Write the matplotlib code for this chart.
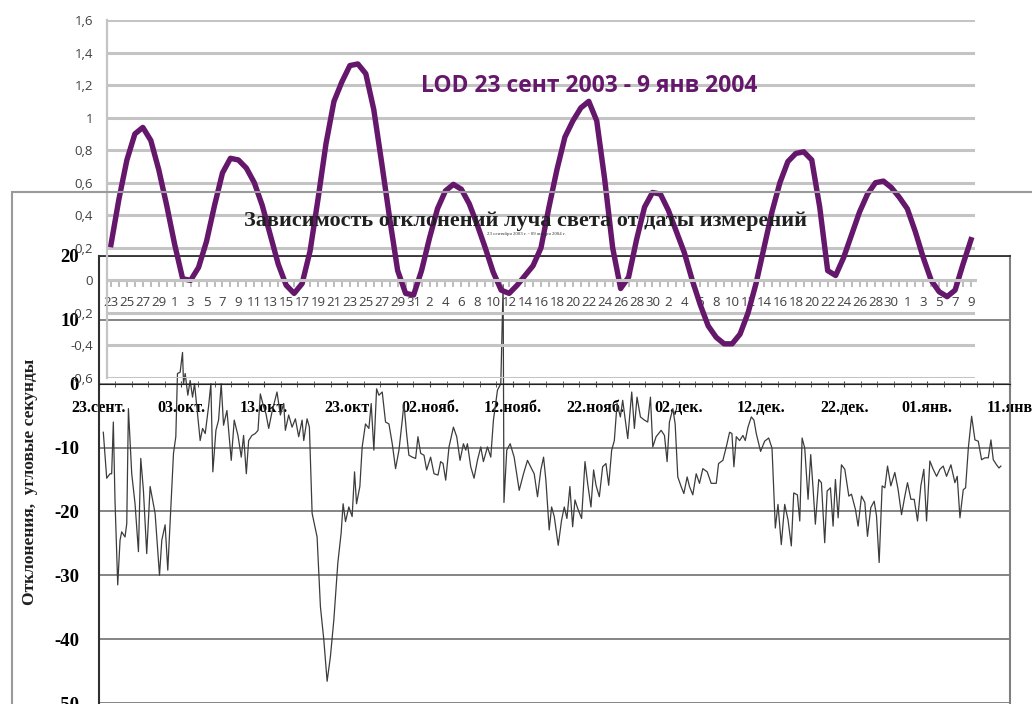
import matplotlib
matplotlib.use('Agg')
import numpy as np
import matplotlib.pyplot as plt
import matplotlib.ticker as tick
from matplotlib.patches import Rectangle

plt.rcParams['axes.unicode_minus'] = False

purple = '#65186b'
lod_grid = '#c4c4c4'
dark_grid = '#707070'
sans = ['Open Sans', 'DejaVu Sans']
serif = ['Liberation Serif', 'DejaVu Serif']

# LOD, one value per day, 23 Sep 2003 .. 9 Jan 2004
lod_values = [
    0.22, 0.50, 0.74, 0.90, 0.94, 0.86, 0.68, 0.46, 0.22, 0.01,
    0.00, 0.08, 0.24, 0.46, 0.66, 0.75, 0.74, 0.69, 0.60, 0.46,
    0.28, 0.10, -0.03, -0.08, -0.02, 0.18, 0.50, 0.84, 1.10, 1.22,
    1.32, 1.33, 1.27, 1.05, 0.72, 0.38, 0.06, -0.08, -0.09, 0.06,
    0.26, 0.44, 0.55, 0.59, 0.56, 0.47, 0.34, 0.20, 0.05, -0.06,
    -0.08, -0.03, 0.03, 0.09, 0.20, 0.45, 0.68, 0.88, 0.98, 1.06,
    1.10, 0.98, 0.62, 0.20, -0.05, 0.02, 0.25, 0.45, 0.54, 0.53,
    0.43, 0.30, 0.17, 0.00, -0.15, -0.28, -0.35, -0.39, -0.39, -0.33,
    -0.20, -0.02, 0.20, 0.42, 0.60, 0.73, 0.78, 0.79, 0.74, 0.45,
    0.06, 0.03, 0.14, 0.28, 0.42, 0.53, 0.60, 0.61, 0.57, 0.51,
    0.44, 0.30, 0.14, 0.00, -0.07, -0.10, -0.06, 0.10, 0.25,
]
lod_labels = ['23', '25', '27', '29',
              '1', '3', '5', '7', '9', '11', '13', '15', '17', '19', '21', '23', '25', '27', '29', '31',
              '2', '4', '6', '8', '10', '12', '14', '16', '18', '20', '22', '24', '26', '28', '30',
              '2', '4', '6', '8', '10', '12', '14', '16', '18', '20', '22', '24', '26', '28', '30',
              '1', '3', '5', '7', '9']
lod_title = 'LOD 23 сент 2003 - 9 янв 2004'

# light beam deviation, days since 23 Sep 2003 -> arc seconds
dev_days = [
    0.58, 0.99, 1.39, 1.59, 1.79, 1.99, 2.32, 2.60, 2.80, 3.20, 3.41, 3.61, 4.01, 4.41, 4.82,
    5.10, 5.42, 5.82, 6.23, 6.83, 7.36, 7.64, 8.04, 8.36, 9.05, 9.33, 9.53, 9.85, 10.14, 10.26,
    10.46, 10.78, 11.06, 11.35, 11.59, 11.87, 12.27, 12.56, 12.88, 13.28, 13.56, 13.80, 14.17, 14.49, 14.81,
    15.09, 15.50, 16.02, 16.38, 16.83, 17.23, 17.51, 17.84, 18.12, 18.52, 18.92, 19.25, 19.53, 19.93, 20.21,
    20.54, 20.94, 21.54, 21.95, 22.35, 22.55, 22.95, 23.36, 23.76, 24.16, 24.57, 24.77, 25.17, 25.45, 25.78,
    26.38, 26.78, 27.19, 27.59, 27.99, 28.40, 28.88, 29.28, 29.52, 29.81, 30.21, 30.61, 30.90, 31.14, 31.54,
    31.82, 32.22, 32.63, 32.91, 33.23, 33.56, 33.84, 34.24, 34.64, 35.05, 35.45, 35.85, 36.26, 36.66, 36.86,
    37.18, 37.46, 37.87, 38.27, 38.55, 38.88, 39.28, 39.60, 40.08, 40.49, 40.97, 41.29, 41.58, 41.90, 42.30,
    42.83, 43.23, 43.63, 44.04, 44.32, 44.52, 44.92, 45.32, 45.73, 46.13, 46.45, 46.94, 47.34, 47.66, 48.15,
    48.55, 48.83, 48.93, 49.27, 49.68, 50.16, 50.77, 51.29, 51.77, 52.26, 52.58, 52.98, 53.38, 53.71, 53.99,
    54.39, 54.68, 55.00, 55.48, 55.88, 56.21, 56.53, 56.89, 57.22, 57.50, 57.82, 58.30, 58.71, 59.03, 59.43,
    59.75, 60.04, 60.44, 60.84, 61.24, 61.57, 61.93, 62.25, 62.58, 62.98, 63.26, 63.87, 64.35, 64.67, 64.99,
    65.40, 65.88, 66.28, 66.61, 66.89, 67.29, 67.90, 68.30, 68.62, 68.90, 69.31, 69.59, 69.91, 70.31, 70.64,
    71.04, 71.32, 71.72, 72.13, 72.53, 72.93, 73.46, 73.94, 74.55, 74.83, 75.35, 75.76, 76.16, 76.44, 76.68,
    76.97, 77.37, 77.77, 78.05, 78.38, 78.78, 79.10, 79.38, 79.90, 80.39, 80.88, 81.28, 81.68, 82.00, 82.40,
    82.81, 83.21, 83.61, 83.90, 84.34, 84.63, 84.91, 85.23, 85.63, 85.95, 86.23, 86.51, 86.92, 87.24, 87.64,
    87.93, 88.33, 88.65, 88.93, 89.26, 89.66, 90.06, 90.55, 90.87, 91.35, 91.67, 92.08, 92.48, 92.80, 93.20,
    93.61, 93.89, 94.21, 94.57, 94.90, 95.22, 95.62, 96.10, 96.50, 96.91, 97.31, 97.63, 98.04, 98.44, 98.84,
    99.24, 99.60, 99.93, 100.33, 100.73, 101.14, 101.54, 101.94, 102.34, 102.87, 103.35, 103.63, 103.96, 104.36, 104.64,
    104.97, 105.37, 105.77, 106.17, 106.57, 106.98, 107.38, 107.70, 107.98, 108.38, 108.67, 108.90,
]
dev_values = [
    -7.6, -14.8, -14.1, -14.1, -6.0, -18.2, -31.5, -24.5, -23.2, -24.0, -21.9, -3.9, -14.1, -18.8, -26.3,
    -11.7, -16.7, -26.6, -16.1, -20.3, -30.0, -24.5, -22.1, -29.2, -10.9, -8.3, 1.6, 1.8, 4.9, 0.0,
    1.6, -1.8, 0.5, -2.1, 0.0, -3.6, -8.9, -7.0, -7.8, -3.6, 0.0, -13.8, -7.3, -5.7, 0.0,
    -6.5, -4.2, -12.0, -5.7, -8.1, -11.5, -8.1, -14.1, -8.9, -8.1, -7.8, -7.3, -1.6, -3.6, -4.7,
    -7.0, -4.4, -1.3, -4.9, -3.1, -7.3, -4.9, -6.8, -5.5, -8.3, -5.7, -8.9, -5.5, -6.8, -20.3,
    -24.0, -34.9, -40.1, -46.6, -42.7, -37.0, -28.1, -23.4, -18.8, -21.6, -19.3, -20.8, -13.8, -18.8, -16.1,
    -9.9, -6.3, -7.0, -3.1, -10.4, -0.8, -1.8, -1.3, -6.0, -6.3, -9.4, -13.3, -10.4, -5.7, -3.1,
    -7.8, -11.2, -11.5, -11.7, -8.3, -10.9, -11.2, -13.5, -11.5, -14.1, -14.3, -12.2, -12.5, -15.1, -9.9,
    -6.8, -8.3, -12.0, -9.4, -10.4, -9.4, -13.0, -14.8, -12.0, -9.9, -12.2, -9.9, -11.5, -5.7, -1.0,
    0.0, 15.5, -18.6, -10.4, -9.4, -11.5, -16.7, -14.1, -12.0, -13.3, -14.1, -17.7, -13.5, -11.5, -15.1,
    -22.9, -19.3, -20.8, -25.3, -21.4, -19.3, -21.1, -16.1, -22.4, -18.2, -19.5, -21.1, -12.2, -15.6, -19.3,
    -13.5, -15.9, -17.7, -13.0, -12.5, -15.9, -10.4, -8.9, -3.1, -5.2, -2.6, -8.6, -1.3, -7.0, -2.1,
    -5.2, -5.7, -6.0, -2.1, -9.9, -8.3, -7.3, -8.1, -12.2, -6.0, -3.9, -6.3, -14.6, -16.1, -17.2,
    -14.6, -16.1, -17.4, -14.1, -15.6, -13.3, -13.8, -15.6, -15.6, -12.5, -12.0, -9.9, -7.6, -7.8, -13.0,
    -8.3, -8.9, -8.1, -8.9, -6.8, -5.2, -5.7, -7.8, -10.6, -9.0, -8.5, -10.1, -22.6, -18.9, -25.2,
    -18.9, -21.3, -25.4, -17.1, -17.4, -21.5, -8.5, -10.1, -18.1, -11.1, -16.3, -22.0, -15.0, -15.5, -24.9,
    -16.8, -16.3, -22.3, -15.0, -21.0, -12.7, -13.4, -17.6, -17.3, -19.7, -22.3, -17.6, -18.6, -23.9, -19.4,
    -18.4, -20.7, -28.0, -16.0, -16.3, -12.9, -16.0, -13.9, -16.6, -20.5, -17.6, -15.5, -18.1, -18.1, -21.5,
    -16.0, -13.4, -21.5, -12.1, -13.4, -14.5, -13.4, -12.9, -14.5, -12.7, -15.5, -14.5, -21.0, -16.6, -16.3,
    -10.1, -5.1, -8.8, -9.0, -11.9, -11.6, -11.6, -8.8, -11.9, -12.7, -13.2, -12.9,
]
dev_ticks = ['23.сент.', '03.окт.', '13.окт.', '23.окт', '02.нояб.', '12.нояб.',
             '22.нояб.', '02.дек.', '12.дек.', '22.дек.', '01.янв.', '11.янв']
dev_title = 'Зависимость отклонений луча света от даты измерений'
dev_subtitle = '23 сентября 2003 г. - 09 января 2004 г.'
dev_ylabel = 'Отклонения,  угловые секунды'

W, H = 1032, 704
fig = plt.figure(figsize=(W / 100, H / 100), dpi=100)

# the pasted deviation chart (lies underneath)
fig.patches.append(Rectangle((12 / W, -0.01), 1.2, 1 - 192 / H + 0.01, transform=fig.transFigure,
                             fill=False, edgecolor='#9a9a9a', lw=1.5))

ax = fig.add_axes([98.5 / W, 1 / H, (1010 - 98.5) / W, (703 - 256) / H])
ax.plot(dev_days, dev_values, color='#3c3c3c', lw=0.9)
ax.set_xlim(0, 110)
ax.set_ylim(-50, 20)
ax.set_yticks(range(-50, 21, 10))
ax.grid(axis='y', color=dark_grid, lw=1.2)
ax.set_axisbelow(True)
ax.spines['bottom'].set_position(('data', 0))
ax.spines['bottom'].set_color('#202020')
ax.spines['left'].set_color('#303030')
ax.spines['left'].set_linewidth(1.5)
ax.spines['top'].set_color('#303030')
ax.spines['top'].set_linewidth(1.3)
ax.spines['right'].set_color('#808080')
ax.spines['right'].set_linewidth(1.5)
ax.set_xticks(range(0, 111, 10))
ax.set_xticklabels(dev_ticks)
ax.xaxis.set_minor_locator(tick.MultipleLocator(2))
ax.tick_params(axis='x', which='both', direction='inout', length=4, pad=10, color='#404040')
ax.tick_params(axis='y', length=0, pad=14)
for lab in ax.get_xticklabels():
    lab.set_family(serif)
    lab.set_fontweight('bold')
    lab.set_fontsize(11.5)
for lab in ax.get_yticklabels():
    lab.set_family(serif)
    lab.set_fontweight('bold')
    lab.set_fontsize(13.5)

fig.text(30 / W, 1 - 482 / H, dev_ylabel, rotation=90, ha='center', va='center',
         family=serif, fontweight='bold', fontsize=12.5, color='#202020')
fig.text(526 / W, 1 - 221 / H, dev_title, ha='center', va='center',
         family=serif, fontweight='bold', fontsize=16, color='#202020')
fig.text(526 / W, 1 - 234 / H, dev_subtitle, ha='center', va='center',
         family=serif, fontsize=3.5, color='#303030')

# LOD chart pasted on top, transparent background
ax2 = fig.add_axes([107 / W, (H - 378) / H, (975 - 107) / W, (378 - 20) / H])
ax2.set_facecolor('none')
ax2.plot(range(len(lod_values)), lod_values, color=purple, lw=3.9, solid_joinstyle='round')
ax2.set_xlim(-0.5, len(lod_values) - 0.5)
ax2.set_ylim(-0.6, 1.6)
ax2.set_yticks(np.arange(-0.6, 1.61, 0.2))
ax2.yaxis.set_major_formatter(tick.FuncFormatter(
    lambda v, p: ('%g' % round(v, 1)).replace('.', ',') if abs(v) > 1e-9 else '0'))
ax2.grid(axis='y', color=lod_grid, lw=2.2)
ax2.set_axisbelow(True)
for s in ['top', 'right']:
    ax2.spines[s].set_visible(False)
ax2.spines['left'].set_color(lod_grid)
ax2.spines['left'].set_linewidth(1.6)
ax2.spines['bottom'].set_position(('data', 0))
ax2.spines['bottom'].set_color(lod_grid)
ax2.spines['bottom'].set_linewidth(2.2)
ax2.set_xticks(range(0, len(lod_values), 2))
ax2.set_xticklabels(lod_labels)
ax2.xaxis.set_minor_locator(tick.MultipleLocator(1))
ax2.tick_params(axis='x', which='both', direction='out', length=5, width=1.2, color='#b0b0b0',
                pad=6, labelsize=9.5, labelcolor='#404040')
ax2.tick_params(axis='y', length=0, pad=10, labelsize=9.5, labelcolor='#404040')
for lab in ax2.get_xticklabels() + ax2.get_yticklabels():
    lab.set_family(sans)

fig.text(589 / W, 1 - 86 / H, lod_title, ha='center', va='center', color=purple,
         family=sans, fontweight='bold', fontsize=16.5)

fig.savefig('out.png', dpi=100)
